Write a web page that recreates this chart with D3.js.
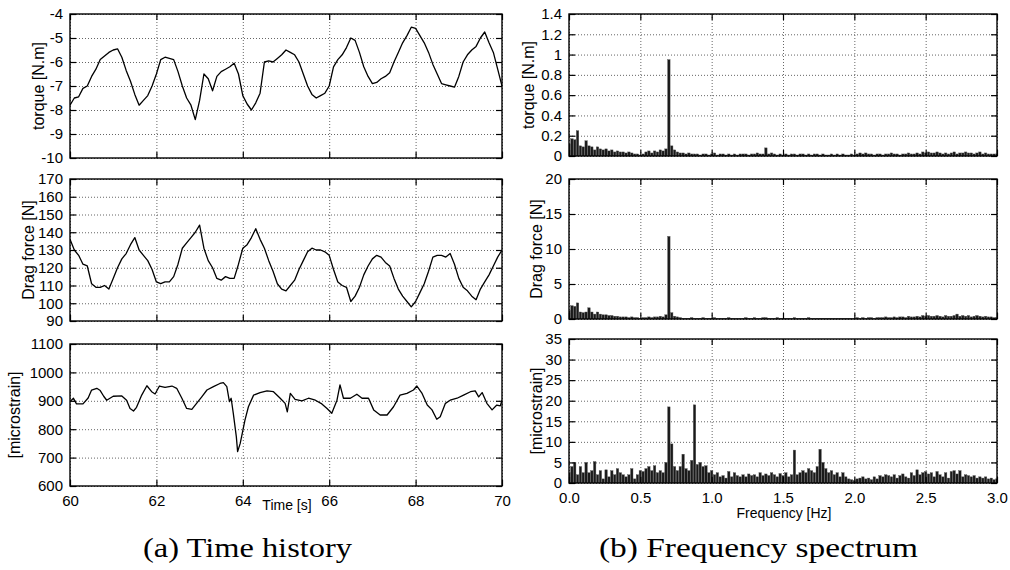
<!DOCTYPE html>
<meta charset="utf-8">
<title>time history and frequency spectrum</title>
<style>
body { margin: 0; background: #fff; }
</style>
<body>
<script src="https://d3js.org/d3.v7.min.js"></script>
<script>
var width = 1010, height = 570;

// time history, sampled every 0.1 s from 60 s
var timeStart = 60, timeStep = 0.1;
var torque = [
  -7.8, -7.5, -7.45, -7.1, -7.0, -6.6, -6.3, -5.9, -5.75, -5.6,
  -5.5, -5.45, -5.8, -6.35, -6.8, -7.35, -7.8, -7.6, -7.4, -7.0,
  -6.5, -5.9, -5.8, -5.85, -5.9, -6.4, -7.0, -7.5, -7.8, -8.4,
  -7.6, -6.5, -6.7, -7.2, -6.6, -6.4, -6.3, -6.2, -6.05, -6.5,
  -7.4, -7.75, -8.0, -7.7, -7.3, -6.0, -5.95, -6.0, -5.85, -5.7,
  -5.5, -5.6, -5.7, -6.0, -6.5, -7.0, -7.35, -7.5, -7.4, -7.3,
  -7.0, -6.2, -5.9, -5.7, -5.4, -5.0, -5.1, -5.6, -6.2, -6.6,
  -6.9, -6.85, -6.7, -6.6, -6.45, -6.0, -5.6, -5.2, -4.9, -4.55,
  -4.6, -4.9, -5.2, -5.6, -6.1, -6.5, -6.9, -6.95, -7.0, -7.05,
  -6.6, -6.0, -5.7, -5.5, -5.35, -5.0, -4.75, -5.2, -5.6, -6.3,
  -7.0
];
var drag = [
  136, 130, 127, 122, 121, 111, 109, 109, 110, 108,
  114, 120, 125, 128, 133, 137, 130, 127, 124, 119,
  112, 111, 112, 112, 115, 122, 131, 134, 137, 140,
  144, 131, 124, 120, 114, 113, 115, 114, 114, 122,
  131, 133, 137, 142, 136, 131, 124, 118, 111, 108,
  107, 110, 113, 119, 124, 129, 131, 130, 130, 129,
  127, 119, 112, 110, 109, 101, 104, 109, 116, 121,
  125, 127, 126, 123, 121, 114, 108, 104, 101, 98,
  101, 106, 111, 118, 126, 127, 127, 126, 128, 122,
  114, 109, 107, 104, 102, 108, 112, 116, 121, 126,
  130
];
var strainTime = [
  60.0, 60.08, 60.15, 60.3, 60.42, 60.5, 60.62, 60.7, 60.78, 60.85,
  61.0, 61.2, 61.31, 61.39, 61.47, 61.54, 61.66, 61.78, 61.89, 61.97,
  62.07, 62.2, 62.36, 62.47, 62.59, 62.7, 62.82, 62.93, 63.05, 63.17,
  63.32, 63.47, 63.55, 63.63, 63.69, 63.73, 63.78, 63.85, 63.88, 63.94,
  64.05, 64.13, 64.25, 64.4, 64.56, 64.71, 64.86, 64.98, 65.03, 65.1,
  65.21, 65.37, 65.52, 65.68, 65.83, 65.95, 66.06, 66.18, 66.25, 66.33,
  66.49, 66.64, 66.76, 66.91, 67.03, 67.18, 67.34, 67.49, 67.64, 67.8,
  67.95, 68.03, 68.15, 68.27, 68.38, 68.49, 68.57, 68.69, 68.8, 68.96,
  69.11, 69.27, 69.38, 69.46, 69.54, 69.65, 69.77, 69.88, 69.96, 70.0
];
var strain = [
  897, 909, 889, 889, 910, 938, 944, 936, 916, 902,
  916, 917, 902, 873, 864, 877, 920, 953, 932, 924,
  952, 947, 952, 944, 909, 873, 870, 891, 914, 938,
  950, 961, 964, 950, 897, 909, 856, 774, 721, 750,
  832, 879, 920, 929, 935, 932, 910, 891, 861, 926,
  905, 900, 909, 902, 889, 873, 856, 902, 956, 909,
  909, 923, 909, 909, 868, 850, 850, 879, 920, 926,
  938, 952, 926, 885, 868, 835, 844, 891, 902, 909,
  920, 932, 935, 914, 929, 891, 868, 885, 882, 902
];

// amplitude spectra, one value every 0.02 Hz from 0 to 3 Hz
var freqStep = 0.02;
var torqueAmp = [
  0.12, 0.17, 0.16, 0.25, 0.10, 0.09, 0.15, 0.10, 0.09, 0.06,
  0.09, 0.07, 0.06, 0.07, 0.05, 0.06, 0.04, 0.05, 0.04, 0.04,
  0.03, 0.04, 0.03, 0.02, 0.02, 0.01, 0.02, 0.04, 0.05, 0.03,
  0.05, 0.04, 0.06, 0.05, 0.07, 0.95, 0.10, 0.06, 0.04, 0.03,
  0.03, 0.02, 0.03, 0.02, 0.02, 0.02, 0.01, 0.02, 0.02, 0.01,
  0.02, 0.03, 0.01, 0.02, 0.02, 0.01, 0.02, 0.01, 0.02, 0.01,
  0.02, 0.02, 0.02, 0.01, 0.02, 0.02, 0.03, 0.02, 0.02, 0.08,
  0.02, 0.03, 0.02, 0.01, 0.02, 0.01, 0.02, 0.01, 0.02, 0.02,
  0.01, 0.02, 0.02, 0.01, 0.02, 0.01, 0.02, 0.02, 0.01, 0.02,
  0.01, 0.01, 0.02, 0.01, 0.02, 0.01, 0.02, 0.01, 0.01, 0.02,
  0.01, 0.02, 0.03, 0.02, 0.03, 0.02, 0.02, 0.01, 0.02, 0.02,
  0.01, 0.02, 0.02, 0.03, 0.02, 0.02, 0.01, 0.02, 0.02, 0.03,
  0.02, 0.02, 0.03, 0.02, 0.04, 0.03, 0.04, 0.03, 0.03, 0.04,
  0.03, 0.02, 0.03, 0.02, 0.03, 0.04, 0.02, 0.03, 0.03, 0.04,
  0.03, 0.03, 0.02, 0.03, 0.04, 0.02, 0.03, 0.02, 0.02, 0.02,
  0.02
];
var dragAmp = [
  1.2, 1.9, 1.8, 2.3, 1.0, 0.9, 1.0, 1.6, 1.0, 0.7,
  1.0, 0.7, 0.6, 0.6, 0.5, 0.5, 0.4, 0.4, 0.3, 0.3,
  0.3, 0.2, 0.3, 0.2, 0.2, 0.1, 0.2, 0.2, 0.3, 0.2,
  0.3, 0.3, 0.4, 0.3, 0.6, 11.8, 0.9, 0.4, 0.3, 0.2,
  0.1, 0.1, 0.1, 0.2, 0.1, 0.1, 0.1, 0.2, 0.1, 0.1,
  0.1, 0.2, 0.1, 0.1, 0.1, 0.1, 0.2, 0.1, 0.1, 0.1,
  0.1, 0.1, 0.2, 0.1, 0.1, 0.2, 0.1, 0.1, 0.2, 0.2,
  0.1, 0.1, 0.1, 0.2, 0.1, 0.1, 0.1, 0.1, 0.1, 0.2,
  0.1, 0.1, 0.1, 0.1, 0.2, 0.1, 0.1, 0.1, 0.1, 0.1,
  0.1, 0.1, 0.1, 0.1, 0.1, 0.1, 0.1, 0.1, 0.1, 0.1,
  0.1, 0.2, 0.1, 0.2, 0.1, 0.2, 0.2, 0.1, 0.2, 0.2,
  0.2, 0.3, 0.2, 0.2, 0.3, 0.2, 0.3, 0.3, 0.2, 0.4,
  0.3, 0.3, 0.4, 0.3, 0.5, 0.4, 0.5, 0.4, 0.4, 0.5,
  0.4, 0.3, 0.5, 0.4, 0.4, 0.5, 0.7, 0.4, 0.5, 0.4,
  0.5, 0.3, 0.4, 0.5, 0.4, 0.3, 0.4, 0.3, 0.3, 0.2,
  0.2
];
var strainAmp = [
  2.5, 4.0, 5.0, 2.0, 4.0, 2.5, 5.0, 2.5, 3.0, 5.2,
  2.0, 3.0, 1.0, 3.2, 1.5, 3.0, 2.0, 3.5, 2.5, 2.0,
  1.5, 2.0, 3.5, 1.0, 2.0, 3.0, 2.8, 3.5, 4.0, 3.0,
  4.2, 2.5, 3.0, 2.5, 5.0, 18.5, 9.5, 4.0, 3.0, 4.0,
  7.0, 3.5, 3.0, 5.5, 19.0, 4.5, 5.0, 4.0, 4.2, 2.5,
  3.0, 2.0, 2.5, 1.5, 1.8, 1.2, 2.8, 1.5, 2.5, 1.8,
  1.5, 2.0, 1.5, 2.2, 1.8, 2.0, 1.5, 2.5, 1.8, 2.2,
  1.8, 2.5, 2.0, 1.5, 2.3, 1.8, 2.5, 1.5, 2.0, 8.0,
  2.0, 2.5, 3.0, 2.5, 3.5, 3.0, 2.5, 4.0, 8.2, 5.0,
  3.5, 2.5, 3.0, 2.0, 2.5, 1.5, 2.5, 1.5, 1.0, 0.8,
  0.6, 1.0, 1.2, 1.5, 1.0, 1.2, 0.8, 1.5, 1.0, 1.8,
  1.5, 2.0, 1.8, 1.5, 2.0, 1.2, 1.8, 2.2, 1.5, 1.2,
  2.5, 1.8, 3.2, 2.0, 2.5, 2.8, 2.2, 2.5, 1.5, 2.8,
  2.0, 1.5, 2.5, 1.2, 2.8, 3.0, 2.2, 3.0, 1.5, 2.0,
  1.8, 1.5, 1.8, 1.2, 1.5, 1.2, 1.5, 1.0, 1.2, 0.8,
  1.0
];

// tick labels
var timeTicks = [60, 62, 64, 66, 68, 70];
var freqTicks = [0, 0.5, 1, 1.5, 2, 2.5, 3];
var torqueTicks = [-10, -9, -8, -7, -6, -5, -4];
var dragTicks = [90, 100, 110, 120, 130, 140, 150, 160, 170];
var strainTicks = [600, 700, 800, 900, 1000, 1100];
var torqueAmpTicks = [0, 0.2, 0.4, 0.6, 0.8, 1, 1.2, 1.4];
var dragAmpTicks = [0, 5, 10, 15, 20];
var strainAmpTicks = [0, 5, 10, 15, 20, 25, 30, 35];

var sansFont = '"Liberation Sans", Arial, Helvetica, sans-serif';
var serifFont = '"Liberation Serif", "Times New Roman", serif';

var svg = d3.select('body').append('svg')
    .attr('width', width)
    .attr('height', height)
    .style('font-family', sansFont);

function timeSeries(vals) {
  return vals.map(function(v, i) { return [timeStart + i * timeStep, v]; });
}
function spectrum(vals) {
  return vals.map(function(v, i) { return [i * freqStep, v]; });
}
function plain(d) { return String(d); }

var left = {x0: 70, x1: 502}, right = {x0: 569, x1: 997};

var panels = [
  {col: left, y0: 14, y1: 158, xd: [60, 70], xt: timeTicks, yd: [-10, -4], yt: torqueTicks,
   label: 'torque [N.m]', lx: 38, line: timeSeries(torque)},
  {col: left, y0: 179, y1: 321, xd: [60, 70], xt: timeTicks, yd: [90, 170], yt: dragTicks,
   label: 'Drag force [N]', lx: 28, line: timeSeries(drag)},
  {col: left, y0: 344, y1: 486, xd: [60, 70], xt: timeTicks, yd: [600, 1100], yt: strainTicks,
   label: '[microstrain]', lx: 14, xfmt: d3.format('d'),
   line: strainTime.map(function(t, i) { return [t, strain[i]]; })},
  {col: right, y0: 14, y1: 156, xd: [0, 3], xt: freqTicks, yd: [0, 1.4], yt: torqueAmpTicks,
   label: 'torque [N.m]', lx: 528, bars: spectrum(torqueAmp)},
  {col: right, y0: 179, y1: 319, xd: [0, 3], xt: freqTicks, yd: [0, 20], yt: dragAmpTicks,
   label: 'Drag force [N]', lx: 536, bars: spectrum(dragAmp)},
  {col: right, y0: 339, y1: 483, xd: [0, 3], xt: freqTicks, yd: [0, 35], yt: strainAmpTicks,
   label: '[microstrain]', lx: 536, xfmt: d3.format('.1f'), bars: spectrum(strainAmp)}
];

panels.forEach(function(p, k) {
  var w = p.col.x1 - p.col.x0, h = p.y1 - p.y0;
  var x = d3.scaleLinear().domain(p.xd).range([0, w]);
  var y = d3.scaleLinear().domain(p.yd).range([h, 0]);
  var g = svg.append('g').attr('transform', 'translate(' + p.col.x0 + ',' + p.y0 + ')');

  // dotted grid
  var gx = g.append('g').attr('transform', 'translate(0,' + h + ')')
      .call(d3.axisBottom(x).tickValues(p.xt).tickSize(-h).tickFormat(''));
  var gy = g.append('g')
      .call(d3.axisLeft(y).tickValues(p.yt).tickSize(-w).tickFormat(''));
  [gx, gy].forEach(function(a) {
    a.select('.domain').remove();
    a.selectAll('line').attr('stroke', '#666').attr('stroke-dasharray', '1,2');
  });

  var clipId = 'clip' + k;
  g.append('clipPath').attr('id', clipId)
    .append('rect').attr('width', w).attr('height', h);
  var plot = g.append('g').attr('clip-path', 'url(#' + clipId + ')');

  if (p.line) {
    plot.append('path')
        .datum(p.line)
        .attr('fill', 'none')
        .attr('stroke', '#000')
        .attr('stroke-width', 1.3)
        .attr('stroke-linejoin', 'round')
        .attr('d', d3.line()
            .x(function(d) { return x(d[0]); })
            .y(function(d) { return y(d[1]); }));
  }
  if (p.bars) {
    var bw = x(freqStep) - x(0) - 0.4;
    plot.selectAll('rect.bar')
        .data(p.bars)
      .enter().append('rect')
        .attr('class', 'bar')
        .attr('x', function(d) { return x(d[0]) - bw / 2; })
        .attr('y', function(d) { return y(d[1]); })
        .attr('width', bw)
        .attr('height', function(d) { return h - y(d[1]); })
        .attr('fill', '#1a1a1a')
        .attr('stroke', '#555')
        .attr('stroke-width', 0.4);
  }

  // inward ticks on all four sides
  var axes = [
    g.append('g').attr('transform', 'translate(0,' + h + ')')
      .call(d3.axisBottom(x).tickValues(p.xt).tickSize(-6).tickPadding(9)
        .tickFormat(p.xfmt || function() { return ''; })),
    g.append('g')
      .call(d3.axisTop(x).tickValues(p.xt).tickSize(-6).tickFormat('')),
    g.append('g')
      .call(d3.axisLeft(y).tickValues(p.yt).tickSize(-6).tickPadding(7).tickFormat(plain)),
    g.append('g').attr('transform', 'translate(' + w + ',0)')
      .call(d3.axisRight(y).tickValues(p.yt).tickSize(-6).tickFormat(''))
  ];
  axes.forEach(function(a) {
    a.select('.domain').remove();
    a.selectAll('line').attr('stroke', '#000').attr('stroke-width', 1.2);
    a.selectAll('text').attr('font-size', 15)
        .attr('font-family', sansFont).attr('fill', '#000');
  });

  g.append('rect')
      .attr('width', w).attr('height', h)
      .attr('fill', 'none')
      .attr('stroke', '#000')
      .attr('stroke-width', 1.4);

  svg.append('text')
      .attr('transform', 'translate(' + p.lx + ',' + (p.y0 + h / 2) + ') rotate(-90)')
      .attr('text-anchor', 'middle')
      .attr('dy', '0.35em')
      .attr('font-size', 16)
      .text(p.label);
});

svg.append('text')
    .attr('x', 287).attr('y', 510)
    .attr('text-anchor', 'middle')
    .attr('font-size', 14)
    .text('Time [s]');
svg.append('text')
    .attr('x', 784).attr('y', 518)
    .attr('text-anchor', 'middle')
    .attr('font-size', 14)
    .text('Frequency [Hz]');

svg.append('text')
    .attr('x', 143).attr('y', 557)
    .attr('textLength', 209)
    .attr('lengthAdjust', 'spacingAndGlyphs')
    .style('font-family', serifFont)
    .attr('font-size', 28)
    .text('(a) Time history');
svg.append('text')
    .attr('x', 599).attr('y', 557)
    .attr('textLength', 319)
    .attr('lengthAdjust', 'spacingAndGlyphs')
    .style('font-family', serifFont)
    .attr('font-size', 28)
    .text('(b) Frequency spectrum');
</script>
